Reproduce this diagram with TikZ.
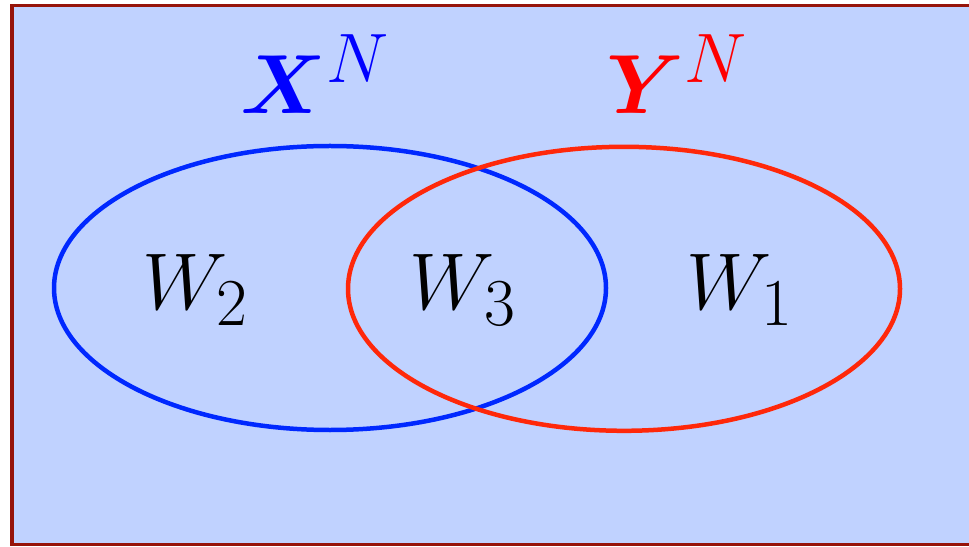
\documentclass[tikz,border=0pt]{standalone}
\usepackage{amsmath,bm}
\definecolor{bgblue}{RGB}{192,210,255}
\definecolor{framered}{RGB}{150,20,10}
\definecolor{setblue}{RGB}{0,40,255}
\definecolor{setred}{RGB}{255,40,10}
\tikzset{
  setline/.style={line width=3.2pt},
  setlabel/.style={font=\Huge, scale=2.3},
  settitle/.style={font=\Huge, scale=2.4}
}
\begin{document}
\begin{tikzpicture}
        \useasboundingbox (0,0) rectangle (24.225,13.65);
        \clip (0,0) rectangle (24.225,13.65);
        % frame
        \draw [framered, fill=bgblue, line width=2.2pt] (0.3,0.04) rectangle (25,13.52);
        % ellipse
        \draw [setline, setblue] (8.25,6.45) ellipse (6.9 and 3.55);
        \draw [setline, setred] (15.6,6.43) ellipse (6.9 and 3.55);
        % lecter
        \node [settitle, text=blue] (xn) at (7.875,11.8) {$\bm{X}^N$};
        \node [settitle, text=red] (yn) at (16.925,11.8) {$\bm{Y}^N$};
        \node [setlabel] (w2) at (4.9,6.4) {$W_2$};
        \node [setlabel] (w3) at (11.575,6.4) {$W_3$};
        \node [setlabel] (w1) at (18.5,6.4) {$W_1$};
    \end{tikzpicture}
\end{document}
